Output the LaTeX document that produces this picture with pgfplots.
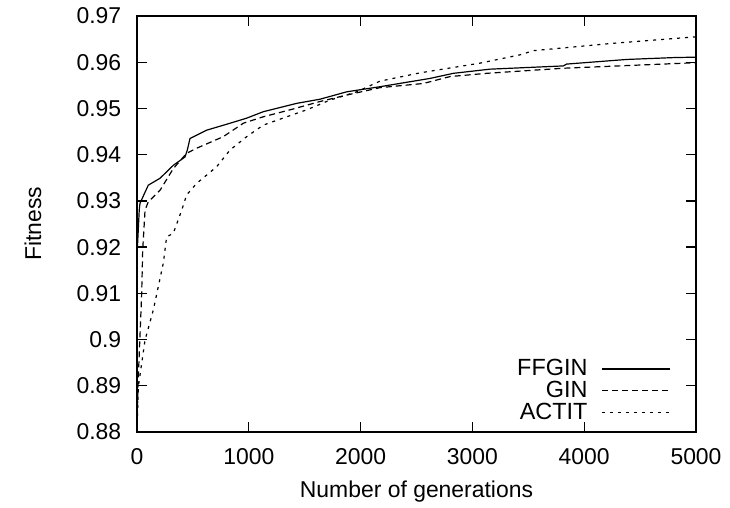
\documentclass[border=0pt]{standalone}
\usepackage{fontspec}
\setmainfont{Liberation Sans}
\usepackage{pgfplots}
\pgfplotsset{compat=1.18}

\begin{document}
\fontsize{23}{27}\selectfont
\begin{tikzpicture}
\useasboundingbox (-137bp,-76bp) rectangle (593bp,432bp);
\begin{axis}[
  at={(0,0)}, anchor=south west,
  scale only axis, width=559bp, height=416bp,
  font=\fontsize{23}{27}\selectfont,
  /pgf/number format/assume math mode=true,
  xmin=0, xmax=5000, ymin=0.88, ymax=0.97,
  xtick={0,1000,2000,3000,4000,5000},
  ytick={0.88,0.89,0.9,0.91,0.92,0.93,0.94,0.95,0.96,0.97},
  scaled ticks=false,
  xticklabel style={/pgf/number format/1000 sep={}, yshift=-9bp},
  yticklabel style={/pgf/number format/fixed, /pgf/number format/precision=2, xshift=-8bp},
  tick align=inside, major tick length=10bp,
  axis line style={line width=1.3bp},
  every tick/.style={line width=1.3bp, black},
  xlabel={Number of generations}, ylabel={Fitness},
  xlabel style={at={(axis description cs:0.5,-0.144)}, anchor=center},
  ylabel style={at={(axis description cs:-0.186,0.5)}, anchor=center},
  legend plot pos=right,
  legend cell align=right,
  legend style={draw=none, fill=none, at={(axis description cs:0.955,0.02)},
    anchor=south east, inner sep=0pt, row sep=0bp, column sep=13bp,
    font=\fontsize{23.5}{27}\selectfont,
    nodes={inner sep=1bp}},
  legend image code/.code={\draw[#1] (0bp,0bp) -- (68bp,0bp);},
]
\addplot[black, line width=1.2bp] coordinates {
(0,0.918) (20,0.9280) (27,0.9295) (101,0.9334) (206,0.9349) (325,0.9377)
(429,0.9395) (450,0.9410) (474,0.9435) (623,0.9453) (832,0.9468) (981,0.9479)
(1130,0.9493) (1428,0.9511) (1637,0.9520) (1876,0.9536) (2173,0.9547)
(2621,0.9565) (2830,0.9576) (3157,0.9585) (3813,0.9592) (3843,0.9596)
(4380,0.9606) (4797,0.9610) (5000,0.9611)};
\addlegendentry{FFGIN}
\addplot[black, line width=1.2bp, dash pattern=on 6bp off 4bp] coordinates {
(0,0.881) (12,0.892) (42,0.910) (51,0.9194) (72,0.928) (101,0.9298)
(206,0.9323) (325,0.9370) (444,0.9403) (534,0.9414) (772,0.9439)
(951,0.9468) (1130,0.9482) (1369,0.9497) (1637,0.9515) (1876,0.9529)
(2173,0.9545) (2561,0.9554) (2800,0.9569) (3128,0.9576) (3813,0.9587)
(5000,0.9599)};
\addlegendentry{GIN}
\addplot[black, line width=1.2bp, dash pattern=on 3bp off 5bp] coordinates {
(0,0.880) (12,0.8898) (72,0.8999) (146,0.9064) (235,0.9165) (265,0.9222)
(325,0.9230) (400,0.9280) (444,0.9313) (534,0.9338) (713,0.9374)
(832,0.9410) (981,0.9439) (1130,0.9464) (1339,0.9482) (1518,0.9497)
(1726,0.9518) (1965,0.9536) (2173,0.9559) (2531,0.9577) (3068,0.9598)
(3426,0.9616) (3545,0.9625) (4261,0.9641) (5000,0.9655)};
\addlegendentry{ACTIT}
\end{axis}
\end{tikzpicture}
\end{document}
